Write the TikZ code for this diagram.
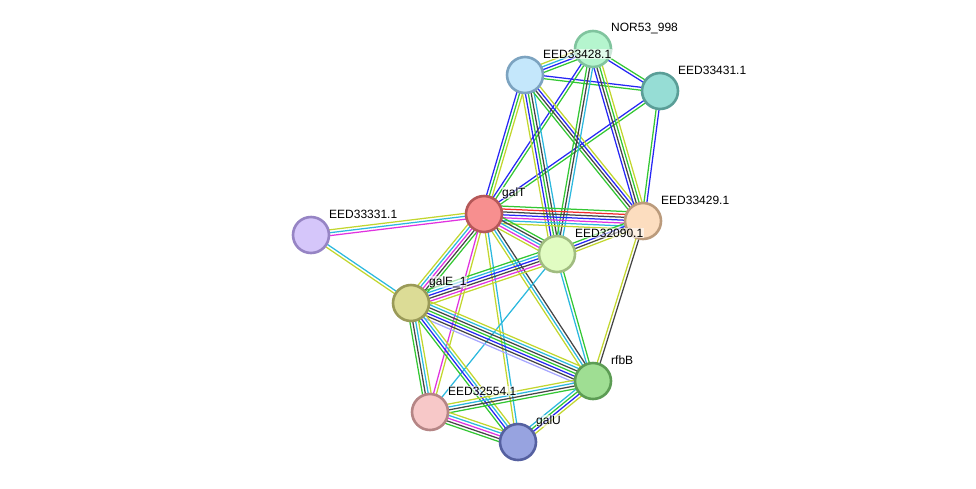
\documentclass[tikz,border=0pt]{standalone}
\usepackage{fontspec}
\setmainfont{Liberation Sans}
\usepackage{tikz}
\usetikzlibrary{calc,positioning}

\pgfdeclarelayer{edges}
\pgfsetlayers{edges,main}

\definecolor{gr}{HTML}{33C733}
\definecolor{bl}{HTML}{2626F5}
\definecolor{cy}{HTML}{2BB8DE}
\definecolor{yg}{HTML}{C2D62E}
\definecolor{bk}{HTML}{454545}
\definecolor{mg}{HTML}{E032E0}
\definecolor{rd}{HTML}{F22B2B}
\definecolor{lv}{HTML}{A6A6FF}

\tikzset{
  prot/.style={circle, minimum size=36pt, inner sep=0pt, line width=2.6pt},
  lbl/.style={anchor=west, inner sep=0.5pt, font=\fontsize{12}{14}\selectfont, fill=white, fill opacity=0.6, text opacity=1},
  evid/.style={line width=1.25pt}
}

% protein node with its name beside it
\newcommand{\prot}[6]{%
  \definecolor{#1fill}{HTML}{#4}\definecolor{#1rim}{HTML}{#5}%
  \node[prot, fill=#1fill, draw=#1rim] (#1) at (#2,#3) {};
  \node[lbl] (#1-l) at ([xshift=17.5pt,yshift=21pt]#1.center) {#6};
}

% one parallel line per evidence channel
\newcommand{\strlink}[4]{%
  \foreach \c [count=\i] in {#4} {
    \pgfmathsetmacro{\o}{(\i-(#3+1)/2)*2.9}
    \draw[evid, \c] ($(#1)!\o pt!90:(#2)$) -- ($(#2)!\o pt!-90:(#1)$);
  }}

\begin{document}
\begin{tikzpicture}[x=1pt, y=-1pt]
\useasboundingbox (0,0) rectangle (976,488);

\prot{nor}{593}{49}{B5F5CE}{80C49E}{NOR53\_998}
\prot{e428}{525}{75}{C4E7FB}{7CA3C0}{EED33428.1}
\prot{e431}{660}{91}{96DDD5}{5A9E97}{EED33431.1}
\prot{galT}{484}{214}{F78F8F}{B55858}{galT}
\prot{e331}{311}{235}{D5C6FA}{9684C4}{EED33331.1}
\prot{e429}{643}{221}{FCDDBF}{BB9B7C}{EED33429.1}
\prot{e090}{557}{254}{E1FCC2}{A0BC80}{EED32090.1}
\prot{galE}{411}{303}{DCDC96}{9A9A58}{galE\_1}
\prot{rfbB}{593}{381}{9FDE93}{5C9C54}{rfbB}
\prot{e554}{430}{412}{F7C8C8}{B58585}{EED32554.1}
\prot{galU}{518}{442}{97A3E0}{5560A0}{galU}

\begin{pgfonlayer}{edges}
\strlink{e428}{nor}{4}{gr,bl,cy,yg}
\strlink{e428}{e431}{2}{gr,bl}
\strlink{nor}{e431}{2}{bl,gr}
\strlink{galT}{e428}{3}{yg,gr,bl}
\strlink{galT}{nor}{2}{gr,bl}
\strlink{galT}{e431}{2}{gr,bl}
\strlink{e428}{e090}{5}{yg,bl,gr,bk,cy}
\strlink{e428}{e429}{4}{gr,bk,bl,yg}
\strlink{nor}{e090}{3}{gr,bk,cy}
\strlink{nor}{e429}{4}{bl,bk,gr,yg}
\strlink{e431}{e429}{2}{gr,bl}
\strlink{galT}{e331}{3}{yg,cy,mg}
\strlink{galT}{e429}{7}{yg,cy,mg,bl,bk,rd,gr}
\strlink{galT}{e090}{5}{yg,mg,cy,bk,gr}
\strlink{galT}{galE}{5}{yg,cy,mg,bk,gr}
\strlink{galT}{rfbB}{3}{yg,cy,bk}
\strlink{galT}{e554}{2}{mg,yg}
\strlink{galT}{galU}{2}{yg,cy}
\strlink{e331}{galE}{2}{yg,cy}
\strlink{e090}{e429}{4}{yg,bk,bl,gr}
\strlink{galE}{e090}{6}{yg,mg,bk,bl,cy,gr}
\strlink{e090}{rfbB}{2}{cy,gr}
\strlink{e090}{e554}{1}{cy}
\strlink{e429}{rfbB}{2}{yg,bk}
\strlink{galE}{rfbB}{7}{lv,bk,bl,gr,bk,cy,yg}
\strlink{galE}{e554}{4}{gr,bk,cy,yg}
\strlink{galE}{galU}{4}{gr,bl,cy,yg}
\strlink{e554}{rfbB}{4}{gr,bk,cy,yg}
\strlink{e554}{galU}{5}{gr,bk,mg,cy,yg}
\strlink{galU}{rfbB}{4}{yg,bl,gr,cy}
\end{pgfonlayer}
\end{tikzpicture}
\end{document}
